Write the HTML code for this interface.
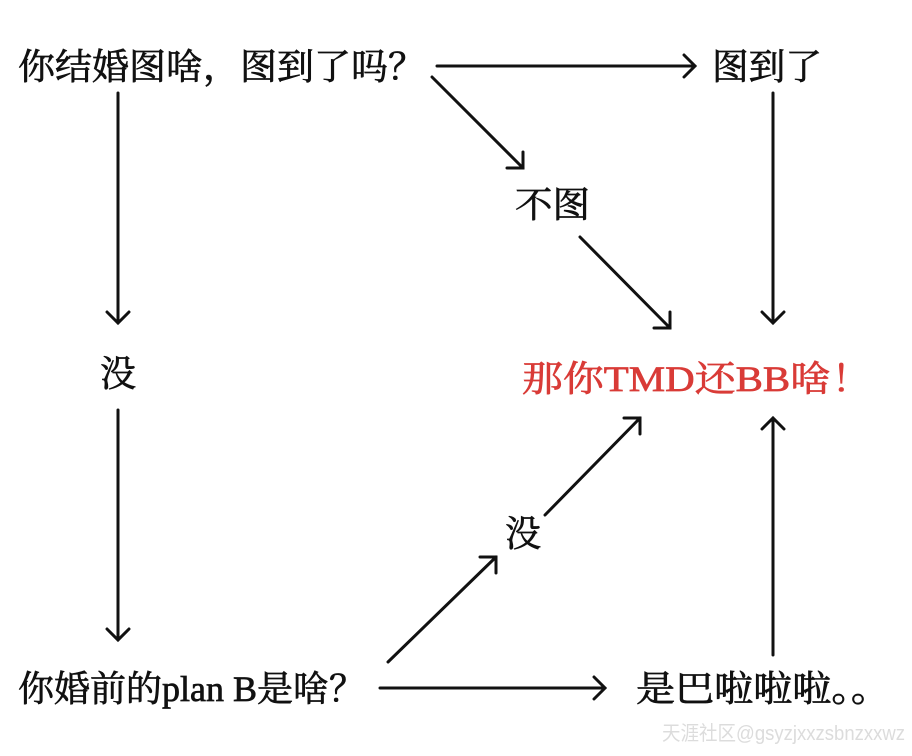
<!DOCTYPE html>
<html><head><meta charset="utf-8"><style>html,body{margin:0;padding:0;background:#fff}</style></head>
<body>
<svg width="912" height="751" viewBox="0 0 912 751" xmlns="http://www.w3.org/2000/svg">
<g font-family="'Liberation Serif','Noto Serif CJK SC',serif" font-size="36" fill="#111" stroke="#111" stroke-width="0.7">
<text x="18" y="79" textLength="407" lengthAdjust="spacingAndGlyphs">你结婚图啥，图到了吗？</text>
<text x="712" y="79" textLength="110" lengthAdjust="spacingAndGlyphs">图到了</text>
<text x="515" y="217" textLength="75" lengthAdjust="spacingAndGlyphs">不图</text>
<text x="100" y="386">没</text>
<text x="505" y="546">没</text>
<text x="18" y="701" textLength="347" lengthAdjust="spacingAndGlyphs">你婚前的plan B是啥？</text>
<text x="636" y="701" textLength="254" lengthAdjust="spacingAndGlyphs">是巴啦啦啦。。</text>
<text x="522" y="391" fill="#d93b37" stroke="#d93b37" textLength="350" lengthAdjust="spacingAndGlyphs">那你TMD还BB啥！</text>
</g>
<text x="662" y="740" font-family="'Liberation Sans','Noto Sans CJK SC',sans-serif" font-size="20" fill="#dcdcdc" textLength="243" lengthAdjust="spacingAndGlyphs">天涯社区@gsyzjxxzsbnzxxwz</text>
<g stroke="#111" stroke-width="3" fill="none" stroke-linecap="round" stroke-linejoin="miter">
<path d="M437 66H695M684 55L695 66L684 77"/>
<path d="M432 77L523 168M507 168H523V152"/>
<path d="M118 93V323M107 312L118 323L129 312"/>
<path d="M118 410V640M107 629L118 640L129 629"/>
<path d="M773 93V323M762 312L773 323L784 312"/>
<path d="M580 237L670 328M654 328H670V312"/>
<path d="M380 688H605M594 677L605 688L594 699"/>
<path d="M773 655V418M762 429L773 418L784 429"/>
<path d="M388 662L496 557M480 557H496V573"/>
<path d="M545 515L640 418M624 418H640V434"/>
</g>
</svg>
</body></html>
